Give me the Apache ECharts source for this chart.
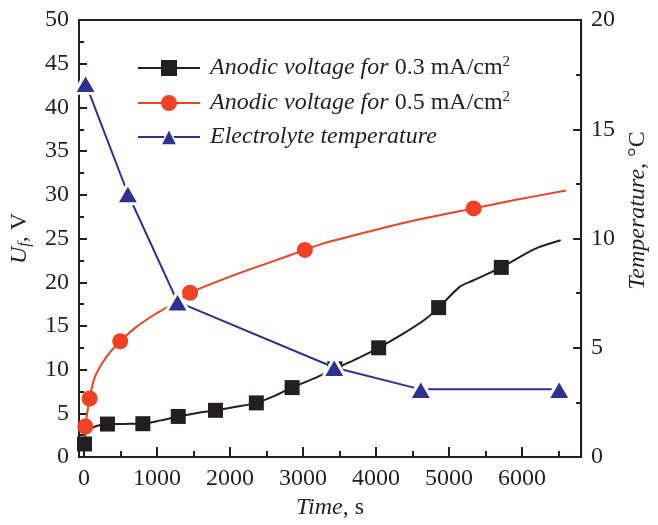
<!DOCTYPE html>
<html><head><meta charset="utf-8">
<script src="https://cdn.jsdelivr.net/npm/echarts@6/dist/echarts.min.js"></script>
<style>html,body{margin:0;padding:0;background:#fff}#c{width:658px;height:525px}</style>
</head><body><div id="c"></div>
<script>
// ---- tick labels ----
const xMajorTicks = [0, 1000, 2000, 3000, 4000, 5000, 6000];
const xMinorTicks = [500, 1500, 2500, 3500, 4500, 5500, 6500];

// ---- series names ----
const name03 = 'Anodic voltage for 0.3 mA/cm2';
const name05 = 'Anodic voltage for 0.5 mA/cm2';
const nameT = 'Electrolyte temperature';

// ---- 0.3 mA/cm2 : measured markers and curve trace ----
const u03MarkT = [5, 320, 805, 1290, 1800, 2360, 2850, 3435, 4036, 4858, 5716];
const u03MarkV = [1.5, 3.78, 3.82, 4.65, 5.35, 6.2, 7.95, 10.1, 12.5, 17.1, 21.7];
const u03TraceT = [30, 150, 550, 1050, 1550, 2080, 2610, 3150, 3750, 4350, 4680, 5150, 5330, 6170, 6530];
const u03TraceV = [2.85, 3.5, 3.8, 4.2, 5.05, 5.75, 7.0, 9.0, 11.3, 14.0, 15.8, 19.5, 20.2, 23.8, 24.8];

// ---- 0.5 mA/cm2 ----
const u05MarkT = [17, 75, 495, 1452, 3025, 5337];
const u05MarkV = [3.5, 6.7, 13.25, 18.8, 23.7, 28.45];
const u05TraceT = [5, 140, 230, 340, 716, 983, 1250, 2036, 2613, 3280, 3947, 4600, 5900, 6604];
const u05TraceV = [1.8, 9.0, 10.5, 11.85, 14.9, 16.4, 17.65, 20.76, 22.47, 24.45, 25.9, 27.2, 29.4, 30.5];

// ---- electrolyte temperature ----
const tempT = [20, 600, 1280, 3427, 4613, 6510];
const tempV = [17.1, 12.05, 7.1, 4.1, 3.1, 3.1];

const INK = '#231f20', RED = '#ef4123', BLUE = '#2e3192';
const FF = 'Liberation Serif';
const FS = 24;

function build(mT, mV, tT, tV) {
  const pts = mT.map((t, i) => ({ value: [t, mV[i]] }))
    .concat(tT.map((t, i) => ({ value: [t, tV[i]], symbol: 'none' })));
  pts.sort((a, b) => a.value[0] - b.value[0]);
  return pts;
}

const base = { fontFamily: FF, fontSize: FS, color: INK };
const richCommon = {
  i: Object.assign({}, base, { fontStyle: 'italic', lineHeight: 26 }),
  n: Object.assign({}, base, { lineHeight: 26 }),
  sup: Object.assign({}, base, { fontSize: 15, verticalAlign: 'top' }),
  sub: Object.assign({}, base, { fontSize: 16, fontStyle: 'italic', verticalAlign: 'bottom' })
};
const lbl = { margin: 10, fontFamily: FF, fontSize: FS, color: INK, formatter: v => String(v) };

const chart = echarts.init(document.getElementById('c'));
chart.setOption({
  animation: false,
  backgroundColor: '#fff',
  grid: { left: 79, right: 63, top: 20, bottom: 66, show: true, borderColor: INK, borderWidth: 2, backgroundColor: 'transparent' },
  legend: {
    orient: 'vertical', left: 132, top: 50, itemWidth: 62, itemHeight: 20, itemGap: 10,
    data: [name03, name05, { name: nameT, itemStyle: { borderWidth: 1.5, borderColor: '#fff' } }],
    textStyle: { padding: [0, 0, 0, 5], rich: richCommon },
    formatter: function (n) {
      if (n === name03) return '{i|Anodic voltage for}{n| 0.3 mA/cm}{sup|2}';
      if (n === name05) return '{i|Anodic voltage for}{n| 0.5 mA/cm}{sup|2}';
      return '{i|Electrolyte temperature}';
    }
  },
  xAxis: [{
    type: 'value', min: -70, max: 6810, position: 'bottom',
    axisLine: { onZero: false, lineStyle: { color: INK, width: 2 } },
    axisTick: { inside: true, length: 10, customValues: xMajorTicks, lineStyle: { color: INK, width: 2 } },
    axisLabel: Object.assign({ customValues: xMajorTicks }, lbl),
    splitLine: { show: false },
    name: '{i|Time}{n|, s}', nameLocation: 'middle', nameGap: 35,
    nameTextStyle: { rich: richCommon }
  }, {
    type: 'value', min: -70, max: 6810, position: 'bottom',
    axisLine: { show: false, onZero: false },
    axisTick: { inside: true, length: 6, customValues: xMinorTicks, lineStyle: { color: INK, width: 2 } },
    axisLabel: { show: false },
    splitLine: { show: false }
  }],
  yAxis: [{
    type: 'value', min: 0, max: 50, interval: 5, position: 'left',
    axisLine: { show: true, onZero: false, lineStyle: { color: INK, width: 2 } },
    axisTick: { show: true, inside: true, length: 8, lineStyle: { color: INK, width: 2 } },
    minorTick: { show: true, splitNumber: 2, length: 5, lineStyle: { color: INK, width: 2 } },
    axisLabel: lbl,
    splitLine: { show: false },
    name: '{i|U}{sub|f}{n|, V}', nameLocation: 'middle', nameGap: 46,
    nameTextStyle: { rich: richCommon }
  }, {
    type: 'value', min: 0, max: 20, interval: 5, position: 'right',
    axisLine: { show: true, onZero: false, lineStyle: { color: INK, width: 2 } },
    axisTick: { show: true, inside: true, length: 8, lineStyle: { color: INK, width: 2 } },
    minorTick: { show: true, splitNumber: 2, length: 5, lineStyle: { color: INK, width: 2 } },
    axisLabel: lbl,
    splitLine: { show: false },
    name: '{i|Temperature}{n|, °C}', nameLocation: 'middle', nameGap: 34,
    nameTextStyle: { rich: richCommon, padding: [0, 0, 0, 56] }
  }],
  series: [{
    name: name03, type: 'line', xAxisIndex: 0, yAxisIndex: 0, smooth: 0.25,
    symbol: 'rect', symbolSize: 15, showAllSymbol: true,
    lineStyle: { color: INK, width: 2 }, itemStyle: { color: INK },
    data: build(u03MarkT, u03MarkV, u03TraceT, u03TraceV)
  }, {
    name: name05, type: 'line', xAxisIndex: 0, yAxisIndex: 0, smooth: 0.25,
    symbol: 'circle', symbolSize: 16, showAllSymbol: true,
    lineStyle: { color: RED, width: 2 }, itemStyle: { color: RED },
    data: build(u05MarkT, u05MarkV, u05TraceT, u05TraceV)
  }, {
    name: nameT, type: 'line', xAxisIndex: 0, yAxisIndex: 1,
    symbol: 'triangle', symbolSize: [23, 20], showAllSymbol: true,
    lineStyle: { color: BLUE, width: 2 }, itemStyle: { color: BLUE, borderColor: '#fff', borderWidth: 3 },
    data: tempT.map((t, i) => [t, tempV[i]])
  }]
});
</script></body></html>
